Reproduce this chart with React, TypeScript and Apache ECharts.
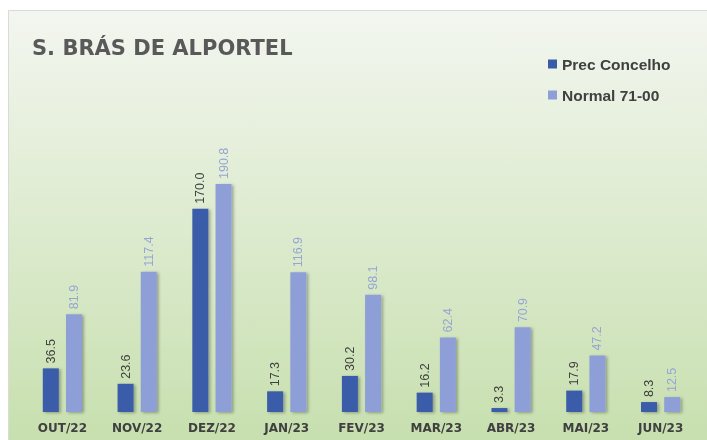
import React, { useEffect, useRef } from "react";
import * as echarts from "echarts";

const categories = ["OUT/22", "NOV/22", "DEZ/22", "JAN/23", "FEV/23", "MAR/23", "ABR/23", "MAI/23", "JUN/23"];
const precConcelho = [36.5, 23.6, 170.0, 17.3, 30.2, 16.2, 3.3, 17.9, 8.3];
const normal7100 = [81.9, 117.4, 190.8, 116.9, 98.1, 62.4, 70.9, 47.2, 12.5];
const seriesNames = ["Prec Concelho", "Normal 71-00"];
const titleText = "S. BRÁS DE ALPORTEL";

export default function App() {
  const ref = useRef<HTMLDivElement>(null);
  useEffect(() => {
    if (!ref.current) return;
    const chart = echarts.init(ref.current, null, { renderer: "svg" });
    const labelBase = {
      show: true,
      position: "top",
      rotate: 90,
      align: "left",
      verticalAlign: "middle",
      distance: 5,
      fontSize: 12.5,
      fontFamily: "Liberation Sans",
      formatter: (p: any) => Number(p.value).toFixed(1),
    };
    chart.setOption({
      animation: false,
      graphic: [
        {
          type: "rect",
          shape: { x: 8.5, y: 10.5, width: 720, height: 440 },
          style: {
            fill: new echarts.graphic.LinearGradient(0, 0, 0, 1, [
              { offset: 0, color: "#f3f6f0" },
              { offset: 0.35, color: "#e3eed8" },
              { offset: 1, color: "#c6dfad" },
            ]),
            stroke: "#d9dcd6",
            lineWidth: 1,
          },
          z: -10,
          silent: true,
        },
      ],
      title: {
        text: titleText,
        left: 27,
        top: 32,
        textStyle: {
          fontFamily: "DejaVu Sans",
          fontWeight: "bold",
          fontSize: 21,
          color: "#595959",
        },
      },
      legend: {
        orient: "vertical",
        left: 548,
        top: 56,
        padding: 0,
        itemWidth: 9,
        itemHeight: 9,
        itemGap: 15,
        icon: "rect",
        textStyle: {
          fontFamily: "Liberation Sans",
          fontWeight: "bold",
          fontSize: 15.5,
          color: "#404040",
        },
        data: seriesNames,
      },
      grid: { left: 25, right: 9, top: 173, bottom: 28, containLabel: false },
      xAxis: {
        type: "category",
        data: categories,
        axisLine: { show: false },
        axisTick: { show: false },
        axisLabel: {
          margin: 10,
          fontFamily: "DejaVu Sans",
          fontWeight: "bold",
          fontSize: 12,
          color: "#404040",
        },
      },
      yAxis: {
        type: "value",
        min: 0,
        max: 200,
        show: false,
        splitLine: { show: false },
      },
      series: [
        {
          name: seriesNames[0],
          type: "bar",
          data: precConcelho,
          barWidth: 16,
          barGap: "45%",
          itemStyle: {
            color: "#3a5ba8",
            shadowBlur: 3,
            shadowOffsetX: 2,
            shadowOffsetY: 1,
            shadowColor: "rgba(0,0,0,0.3)",
          },
          label: { ...labelBase, color: "#404040" },
        },
        {
          name: seriesNames[1],
          type: "bar",
          data: normal7100,
          barWidth: 16,
          itemStyle: {
            color: "#8e9fd8",
            shadowBlur: 3,
            shadowOffsetX: 2,
            shadowOffsetY: 1,
            shadowColor: "rgba(0,0,0,0.3)",
          },
          label: { ...labelBase, color: "#96a5d4" },
        },
      ],
    });
    return () => chart.dispose();
  }, []);
  return (
    <div
      ref={ref}
      style={{ position: "fixed", left: 0, top: 0, width: 707, height: 440 }}
    />
  );
}
